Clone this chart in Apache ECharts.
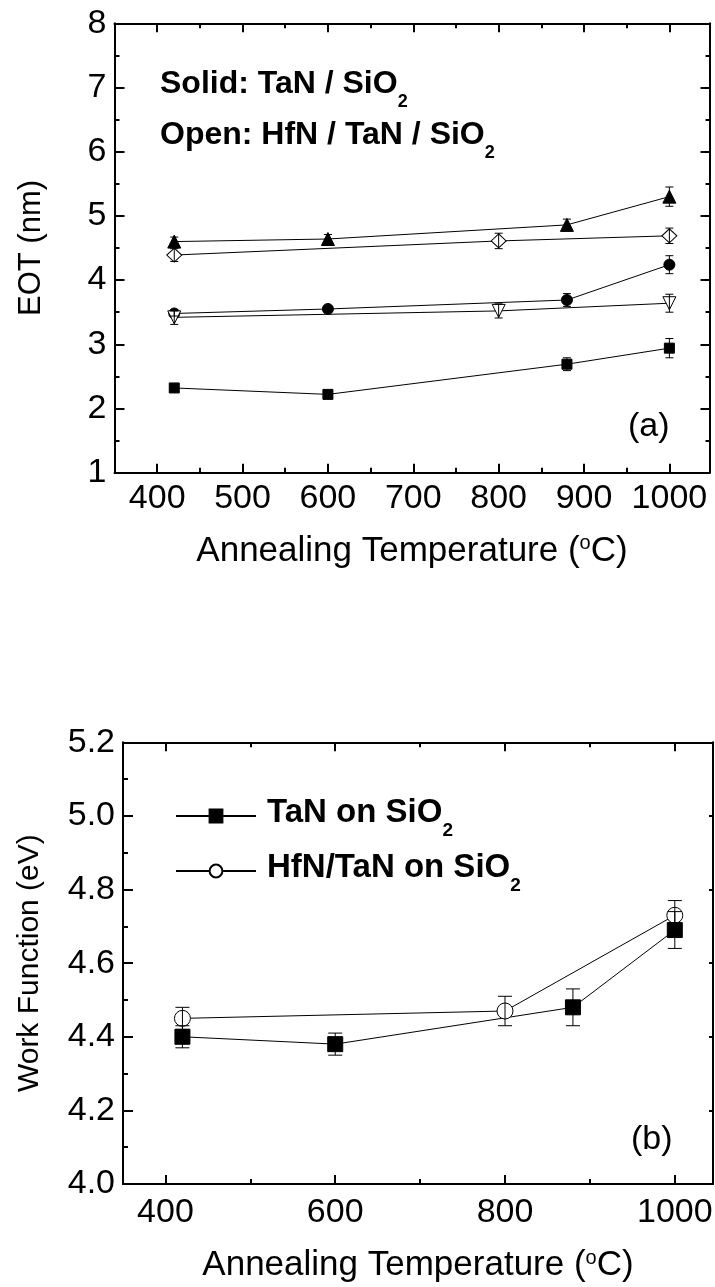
<!DOCTYPE html>
<html><head><meta charset="utf-8">
<script src="https://cdn.jsdelivr.net/npm/echarts@6/dist/echarts.min.js"></script>
<style>html,body{margin:0;padding:0;background:#fff}#c{width:715px;height:1287px}</style>
</head><body><div id="c"></div>
<script>
// ---------- Panel (a): EOT (nm) vs annealing temperature ----------
const tempTanTri = [420, 600, 880, 1000];      // solid triangles
const eotTanTri  = [4.60, 4.64, 4.86, 5.30];
const errTanTri  = [0.07, 0.07, 0.09, 0.15];

const tempHfDia  = [420, 800, 1000];           // open diamonds
const eotHfDia   = [4.39, 4.61, 4.69];
const errHfDia   = [0.10, 0.12, 0.12];

const tempTanCir = [420, 600, 880, 1000];      // solid circles
const eotTanCir  = [3.48, 3.55, 3.69, 4.24];
const errTanCir  = [0.04, 0.03, 0.10, 0.14];

const tempHfInv  = [420, 800, 1000];           // open inverted triangles
const eotHfInv   = [3.42, 3.52, 3.64];
const errHfInv   = [0.11, 0.11, 0.14];

const tempTanSq  = [420, 600, 880, 1000];      // solid squares
const eotTanSq   = [2.32, 2.22, 2.69, 2.94];
const errTanSq   = [0.02, 0.02, 0.10, 0.15];

const xMajorA = [400, 500, 600, 700, 800, 900, 1000];
const xMinorA = [450, 550, 650, 750, 850, 950];

// ---------- Panel (b): Work function (eV) ----------
const tempWfTan = [420, 600, 880, 1000];
const wfTan     = [4.40, 4.38, 4.48, 4.69];
const errWfTan  = [0.03, 0.03, 0.05, 0.05];

const tempWfHf  = [420, 800, 1000];
const wfHf      = [4.45, 4.47, 4.73];
const errWfHf   = [0.03, 0.04, 0.04];

const xMajorB = [400, 600, 800, 1000];
const xMinorB = [500, 700, 900];

// ---------- helpers ----------
const FONT = 'Liberation Sans, Arial, Helvetica, sans-serif';
const BLACK = '#000';

function xAxes(grid, max, major, minor, labelMargin, nameGap) {
  const base = {type: 'value', gridIndex: grid, min: 350, max: max, splitLine: {show: false}, axisPointer: {show: false}};
  const line = {show: true, onZero: false, lineStyle: {color: BLACK, width: 2}};
  return [
    Object.assign({}, base, {
      position: 'bottom', axisLine: line,
      axisTick: {show: true, inside: true, length: 9, customValues: major, lineStyle: {color: BLACK, width: 2}},
      axisLabel: {show: true, customValues: major, color: BLACK, fontFamily: FONT, fontSize: 34, margin: labelMargin,
        formatter: v => String(v)},
      name: '{m|Annealing Temperature (}{s|o}{m|C)}', nameLocation: 'middle', nameGap: nameGap,
      nameTextStyle: {rich: {
        m: {fontFamily: FONT, fontSize: 35, color: BLACK, lineHeight: 42, verticalAlign: 'top'},
        s: {fontFamily: FONT, fontSize: 20, color: BLACK, lineHeight: 20, verticalAlign: 'top'}
      }}
    }),
    Object.assign({}, base, {
      position: 'bottom', axisLine: {show: false},
      axisTick: {show: true, inside: true, length: 5, customValues: minor, lineStyle: {color: BLACK, width: 2}},
      axisLabel: {show: false}
    }),
    Object.assign({}, base, {
      position: 'top', axisLine: line,
      axisTick: {show: true, inside: true, length: 9, customValues: major, lineStyle: {color: BLACK, width: 2}},
      axisLabel: {show: false}
    }),
    Object.assign({}, base, {
      position: 'top', axisLine: {show: false},
      axisTick: {show: true, inside: true, length: 5, customValues: minor, lineStyle: {color: BLACK, width: 2}},
      axisLabel: {show: false}
    })
  ];
}

function yAxes(grid, min, max, interval, digits, name, nameGap, nameSize, rightMinor, rightLen) {
  const base = {type: 'value', gridIndex: grid, min: min, max: max, interval: interval,
    splitLine: {show: false}, minorSplitLine: {show: false}, axisPointer: {show: false}};
  const line = {show: true, onZero: false, lineStyle: {color: BLACK, width: 2}};
  return [
    Object.assign({}, base, {
      position: 'left', axisLine: line,
      axisTick: {show: true, inside: true, length: 10, lineStyle: {color: BLACK, width: 2}},
      minorTick: {show: true, splitNumber: 2, length: 5, lineStyle: {color: BLACK, width: 2}},
      axisLabel: {show: true, color: BLACK, fontFamily: FONT, fontSize: 34, margin: 8,
        formatter: v => v.toFixed(digits)},
      name: name, nameLocation: 'middle', nameGap: nameGap,
      nameTextStyle: {fontFamily: FONT, fontSize: nameSize, color: BLACK}
    }),
    Object.assign({}, base, {
      position: 'right', axisLine: line,
      axisTick: {show: true, inside: true, length: rightLen, lineStyle: {color: BLACK, width: 2}},
      minorTick: {show: rightMinor, splitNumber: 2, length: 4, lineStyle: {color: BLACK, width: 2}},
      axisLabel: {show: false}
    })
  ];
}

function lineSeries(name, xs, ys, xi, yi, symbol, size, filled, rotate) {
  return {
    name: name, type: 'line', xAxisIndex: xi, yAxisIndex: yi,
    data: xs.map((x, i) => [x, ys[i]]),
    symbol: symbol, symbolSize: size, symbolRotate: rotate || 0, showAllSymbol: true,
    lineStyle: {color: BLACK, width: 1},
    itemStyle: {color: filled ? BLACK : '#fff', borderColor: BLACK, borderWidth: 1, opacity: 1},
    emphasis: {disabled: true}, z: 2
  };
}

function errSeries(xs, ys, es, xi, yi, cap) {
  return {
    type: 'custom', xAxisIndex: xi, yAxisIndex: yi, silent: true, z: 4, clip: false,
    data: xs.map((x, i) => [x, ys[i], es[i]]),
    encode: {x: 0, y: 1},
    renderItem: function (params, api) {
      const x = api.value(0), y = api.value(1), e = api.value(2);
      const p1 = api.coord([x, y + e]);
      const p2 = api.coord([x, y - e]);
      const st = {stroke: BLACK, lineWidth: 1, fill: null};
      return {type: 'group', children: [
        {type: 'line', shape: {x1: p1[0], y1: p1[1], x2: p2[0], y2: p2[1]}, style: st},
        {type: 'line', shape: {x1: p1[0] - cap, y1: p1[1], x2: p1[0] + cap, y2: p1[1]}, style: st},
        {type: 'line', shape: {x1: p2[0] - cap, y1: p2[1], x2: p2[0] + cap, y2: p2[1]}, style: st}
      ]};
    }
  };
}

const legRichA = {
  m: {fontFamily: FONT, fontSize: 32, fontWeight: 'bold', color: BLACK, lineHeight: 43, verticalAlign: 'top'},
  s: {fontFamily: FONT, fontSize: 18, fontWeight: 'bold', color: BLACK, lineHeight: 18, verticalAlign: 'bottom'}
};
const legRichB = {
  m: {fontFamily: FONT, fontSize: 33, fontWeight: 'bold', color: BLACK, lineHeight: 44, verticalAlign: 'top'},
  s: {fontFamily: FONT, fontSize: 19, fontWeight: 'bold', color: BLACK, lineHeight: 19, verticalAlign: 'bottom'}
};

const nameTan = 'TaN on SiO₂';
const nameHf = 'HfN/TaN on SiO₂';

const option = {
  animation: false,
  backgroundColor: '#fff',
  grid: [
    {left: 114.5, top: 23.3, width: 595, height: 449.4, outerBoundsMode: 'none', containLabel: false},
    {left: 123, top: 742.3, width: 590, height: 441.7, outerBoundsMode: 'none', containLabel: false}
  ],
  xAxis: [].concat(
    xAxes(0, 1047, xMajorA, xMinorA, 9, 61),
    xAxes(1, 1045, xMajorB, xMinorB, 12, 64)
  ),
  yAxis: [].concat(
    yAxes(0, 1, 8, 1, 0, 'EOT (nm)', 68, 31, true, 9),
    yAxes(1, 4.0, 5.2, 0.2, 1, 'Work Function (eV)', 78, 30, false, 4)
  ),
  legend: {
    data: [nameTan, nameHf], orient: 'vertical', left: 170, top: 791,
    itemWidth: 80, itemHeight: 16, itemGap: 11, selectedMode: false,
    formatter: n => '{m|' + n.replace('₂', '') + '}{s|2}',
    textStyle: {padding: [4, 0, 0, 6], rich: legRichB}
  },
  graphic: [
    {type: 'text', left: 160, top: 68, style: {text: '{m|Solid: TaN / SiO}{s|2}', rich: legRichA}},
    {type: 'text', left: 160, top: 119, style: {text: '{m|Open: HfN / TaN / SiO}{s|2}', rich: legRichA}},
    {type: 'text', left: 628, top: 410, style: {text: '(a)', font: '34px ' + FONT, fill: BLACK}},
    {type: 'text', left: 631, top: 1123, style: {text: '(b)', font: '34px ' + FONT, fill: BLACK}}
  ],
  series: [
    lineSeries('tri', tempTanTri, eotTanTri, 0, 0, 'triangle', 13, true),
    lineSeries('dia', tempHfDia, eotHfDia, 0, 0, 'diamond', [15, 14], false),
    lineSeries('cir', tempTanCir, eotTanCir, 0, 0, 'circle', 11, true),
    lineSeries('inv', tempHfInv, eotHfInv, 0, 0, 'triangle', 13, false, 180),
    lineSeries('sq', tempTanSq, eotTanSq, 0, 0, 'rect', 10, true),
    errSeries(tempTanTri, eotTanTri, errTanTri, 0, 0, 4),
    errSeries(tempHfDia, eotHfDia, errHfDia, 0, 0, 4),
    errSeries(tempTanCir, eotTanCir, errTanCir, 0, 0, 4),
    errSeries(tempHfInv, eotHfInv, errHfInv, 0, 0, 4),
    errSeries(tempTanSq, eotTanSq, errTanSq, 0, 0, 4),

    lineSeries(nameHf, tempWfHf, wfHf, 4, 2, 'circle', 16, false),
    lineSeries(nameTan, tempWfTan, wfTan, 4, 2, 'rect', 15, true),
    errSeries(tempWfTan, wfTan, errWfTan, 4, 2, 7),
    errSeries(tempWfHf, wfHf, errWfHf, 4, 2, 7)
  ]
};

const chart = echarts.init(document.getElementById('c'), null, {renderer: 'canvas'});
chart.setOption(option);
</script>
</body></html>
